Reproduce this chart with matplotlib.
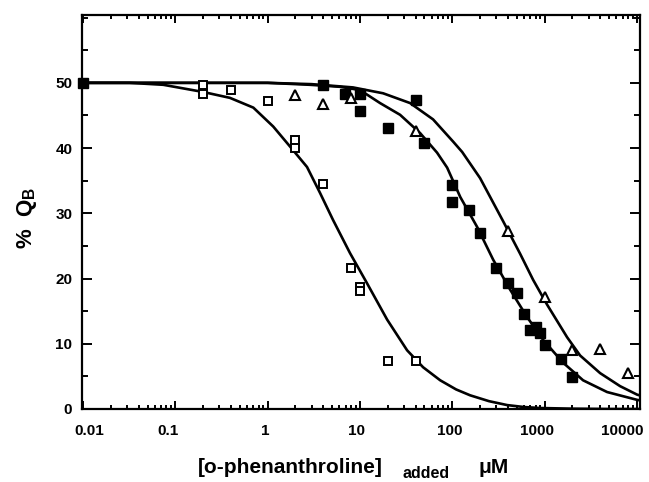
import matplotlib
matplotlib.use("Agg")
import matplotlib.pyplot as plt
import matplotlib.ticker as mticker
import matplotlib.transforms as mtransforms
import numpy as np

plt.rcParams['font.family'] = ['Liberation Sans', 'DejaVu Sans']
plt.rcParams['font.weight'] = 'bold'
plt.rcParams['mathtext.fontset'] = 'custom'
plt.rcParams['mathtext.rm'] = 'Liberation Sans:bold'
plt.rcParams['mathtext.bf'] = 'Liberation Sans:bold'

# measured points
open_sq_x = [0.2, 0.2, 0.4, 1.0, 2.0, 2.0, 4.0, 8.0, 10.0, 10.0, 20.0, 40.0]
open_sq_y = [49.6, 48.3, 48.9, 47.2, 41.3, 40.0, 34.5, 21.6, 18.7, 18.1, 7.4, 7.4]

filled_sq_x = [0.01, 4.0, 6.8, 10.0, 10.0, 20.0, 40.0, 50.0, 100.0, 100.0, 150.0,
               200.0, 300.0, 400.0, 500.0, 600.0, 700.0, 800.0, 900.0, 1000.0,
               1500.0, 2000.0]
filled_sq_y = [50.0, 49.6, 48.3, 48.3, 45.7, 43.1, 47.4, 40.8, 34.4, 31.8, 30.5,
               27.0, 21.6, 19.3, 17.8, 14.6, 12.1, 12.6, 11.7, 9.8,
               7.7, 4.9]

tri_x = [2.0, 4.0, 8.0, 40.0, 400.0, 1000.0, 2000.0, 4000.0, 8000.0]
tri_y = [48.2, 46.8, 47.7, 42.6, 27.3, 17.2, 9.0, 9.2, 5.5]

# fitted curves
fit_a_x = [0.01, 0.032, 0.074, 0.2, 0.39, 0.7, 1.15, 1.88, 2.67, 3.7, 5.1, 7.8,
           11.9, 19.7, 32.4, 48.3, 74, 110, 156, 250, 393, 600, 894, 2000, 5000, 12000]
fit_a_y = [50.0, 50.0, 49.7, 48.6, 47.7, 46.2, 43.3, 39.7, 37.1, 33.1, 29.0, 23.9,
           19.3, 13.7, 9.0, 6.4, 4.4, 3.0, 2.1, 1.2, 0.6, 0.3, 0.15, 0.05, 0.0, 0.0]

fit_b_x = [0.01, 0.1, 1.0, 2.88, 6.0, 10.0, 16.5, 27.2, 44.8, 68.4, 88, 122, 186, 277,
           423, 646, 963, 1586, 2612, 4754, 10050, 12000]
fit_b_y = [50.0, 50.0, 50.0, 49.7, 49.4, 48.9, 46.9, 45.1, 42.3, 39.3, 37.0, 32.5, 27.9,
           22.9, 18.3, 14.1, 10.6, 7.1, 4.4, 2.6, 1.4, 1.2]

fit_c_x = [0.01, 0.1, 1.0, 3.0, 8.4, 17.8, 34.9, 61.9, 102, 128, 200, 355, 543,
           751, 1064, 1753, 2426, 3994, 6577, 10050, 12000]
fit_c_y = [50.0, 50.0, 50.0, 49.8, 49.3, 48.4, 46.9, 44.4, 41.0, 39.4, 35.4, 28.8,
           23.8, 19.8, 16.0, 11.0, 8.2, 5.5, 3.5, 2.2, 1.9]

xtick_vals = [0.01, 0.1, 1, 10, 100, 1000, 10000]
xtick_labels = ['0.01', '0.1', '1', '10', '100', '1000', '10000']
xtick_shift_px = [6, -7, -2, -3, -3, -8, -15]
ytick_vals = [0, 10, 20, 30, 40, 50]

fig = plt.figure(figsize=(6.49, 4.82), dpi=100)
ax = fig.add_axes([82 / 649, 73 / 482, 558 / 649, 394 / 482])

for fx, fy in [(fit_a_x, fit_a_y), (fit_b_x, fit_b_y), (fit_c_x, fit_c_y)]:
    ax.plot(fx, fy, color='black', lw=1.9, solid_joinstyle='round')

ax.plot(open_sq_x, open_sq_y, ls='none', marker='s', ms=6.4, mfc='white',
        mec='black', mew=1.4, zorder=3)
ax.plot(filled_sq_x, filled_sq_y, ls='none', marker='s', ms=7.6, mfc='black',
        mec='black', mew=1.0, zorder=3, clip_on=False)
ax.plot(tri_x, tri_y, ls='none', marker='^', ms=6.6, mfc='white',
        mec='black', mew=1.5, zorder=3)

ax.set_xscale('log')
ax.set_xlim(0.00975, 10800)
ax.set_ylim(0, 60.4)

ax.xaxis.set_major_locator(mticker.FixedLocator(xtick_vals))
ax.xaxis.set_major_formatter(mticker.FixedFormatter(xtick_labels))
ax.xaxis.set_minor_locator(mticker.LogLocator(base=10, subs=np.arange(2, 10)))
ax.xaxis.set_minor_formatter(mticker.NullFormatter())
ax.yaxis.set_major_locator(mticker.FixedLocator(ytick_vals))
ax.yaxis.set_minor_locator(mticker.MultipleLocator(5))

ax.tick_params(which='both', direction='in', top=True, right=True, width=1.4)
ax.tick_params(axis='x', which='major', length=6, pad=11, labelsize=11)
ax.tick_params(axis='x', which='minor', length=3.2)
ax.tick_params(axis='y', which='major', length=7, pad=7, labelsize=11)
ax.tick_params(axis='y', which='minor', length=4.5)
for lbl in ax.get_xticklabels() + ax.get_yticklabels():
    lbl.set_fontweight('bold')
for sp in ax.spines.values():
    sp.set_linewidth(1.6)

# nudge x tick labels sideways
for lbl, dx in zip(ax.xaxis.get_majorticklabels(), xtick_shift_px):
    off = mtransforms.ScaledTranslation(dx / 100, 0, fig.dpi_scale_trans)
    lbl.set_transform(lbl.get_transform() + off)

# axis titles
def fx(px):
    return px / 649

def fy(px):
    return 1 - px / 482

fig.text(fx(290), fy(473), '[o-phenanthroline]', ha='center', va='baseline',
         fontsize=15, fontweight='bold')
fig.text(fx(426), fy(478), 'added', ha='center', va='baseline',
         fontsize=11.5, fontweight='bold')
fig.text(fx(494), fy(473), 'μM', ha='center', va='baseline',
         fontsize=15, fontweight='bold')
fig.text(fx(27), fy(218), '%  Q$_{\\rm B}$', rotation=90,
         ha='center', va='center', fontsize=16, fontweight='bold')

fig.savefig('out.png', dpi=100)
